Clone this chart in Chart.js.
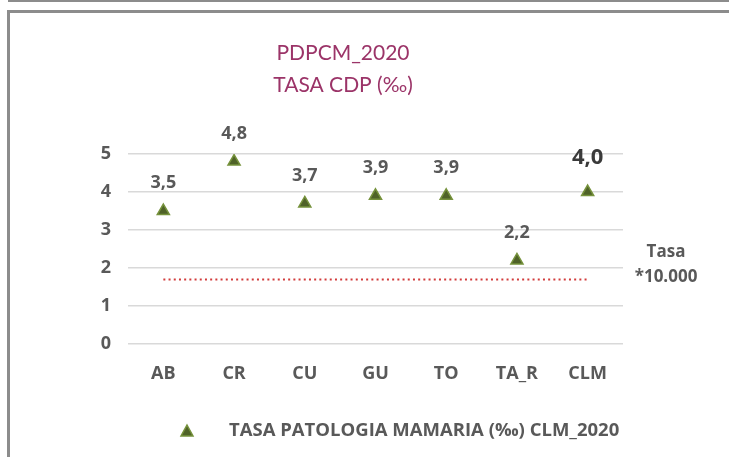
<!DOCTYPE html>
<html>
<head>
<meta charset="utf-8">
<script src="https://cdn.jsdelivr.net/npm/chart.js@4.4.1/dist/chart.umd.min.js"></script>
<style>
  html, body { margin: 0; padding: 0; background: #fff; }
  #wrap { position: relative; width: 729px; height: 457px; }
  canvas { display: block; }
</style>
</head>
<body>
<div id="wrap"><canvas id="c" width="729" height="457"></canvas></div>
<script>
const categories = ['AB', 'CR', 'CU', 'GU', 'TO', 'TA_R', 'CLM'];
const tasaValues = [3.5, 4.8, 3.7, 3.9, 3.9, 2.2, 4.0];
const referenceValues = [1.7, 1.7, 1.7, 1.7, 1.7, 1.7, 1.7];
const seriesName = 'TASA PATOLOGIA MAMARIA (‰) CLM_2020';
const titleLines = ['PDPCM_2020', 'TASA CDP (‰)'];
const sideNote = ['Tasa', '*10.000'];
const yTicks = [0, 1, 2, 3, 4, 5];

const FONT = '"Open Sans", Lato, sans-serif';
const TFONT = 'Lato, "Open Sans", sans-serif';
const GRAY = '#595959';

const decorPlugin = {
  id: 'decor',
  beforeDraw(chart) {
    const ctx = chart.ctx;
    ctx.save();
    ctx.fillStyle = '#fff';
    ctx.fillRect(0, 0, chart.width, chart.height);
    ctx.strokeStyle = '#8c8c8c';
    ctx.lineWidth = 2;
    ctx.beginPath();
    ctx.moveTo(8, 1); ctx.lineTo(729, 1);
    ctx.stroke();
    ctx.lineWidth = 3;
    ctx.beginPath();
    ctx.moveTo(8.5, 457); ctx.lineTo(8.5, 11.5); ctx.lineTo(729, 11.5);
    ctx.stroke();
    ctx.restore();
  },
  afterDraw(chart) {
    const ctx = chart.ctx;
    ctx.save();
    // title
    ctx.fillStyle = '#9B3468';
    ctx.font = '21px ' + TFONT;
    ctx.textAlign = 'center';
    ctx.textBaseline = 'middle';
    ctx.fillText(titleLines[0], 343, 53);
    ctx.fillText(titleLines[1], 343, 85);
    // data labels
    const meta = chart.getDatasetMeta(0);
    meta.data.forEach((pt, i) => {
      const last = i === tasaValues.length - 1;
      ctx.font = 'bold ' + (last ? 22 : 18) + 'px ' + FONT;
      ctx.fillStyle = last ? '#3a3a3a' : GRAY;
      const txt = tasaValues[i].toFixed(1).replace('.', ',');
      ctx.fillText(txt, pt.x, pt.y - (last ? 34 : 28));
    });
    // side note
    ctx.font = 'bold 17px ' + FONT;
    ctx.fillStyle = GRAY;
    ctx.fillText(sideNote[0], 666, 252);
    ctx.fillText(sideNote[1], 666, 277);
    // legend
    ctx.fillStyle = '#4F6228';
    ctx.strokeStyle = '#76923C';
    ctx.lineWidth = 1.5;
    ctx.beginPath();
    ctx.moveTo(187, 425); ctx.lineTo(193, 436); ctx.lineTo(181, 436); ctx.closePath();
    ctx.fill(); ctx.stroke();
    ctx.fillStyle = GRAY;
    ctx.textAlign = 'left';
    ctx.font = 'bold 18.5px ' + FONT;
    ctx.fillText(seriesName, 229, 431);
    ctx.restore();
  }
};

new Chart(document.getElementById('c'), {
  type: 'line',
  data: {
    labels: categories,
    datasets: [
      {
        label: seriesName,
        data: tasaValues,
        showLine: false,
        pointStyle: 'triangle',
        pointRadius: 7,
        pointHoverRadius: 7,
        backgroundColor: '#4F6228',
        borderColor: '#76923C',
        pointBorderWidth: 1.5,
        order: 0
      },
      {
        label: 'ref',
        data: referenceValues,
        borderColor: '#D23C3C',
        borderWidth: 2,
        borderDash: [2, 3.2],
        pointRadius: 0,
        pointHoverRadius: 0,
        fill: false,
        order: 1
      }
    ]
  },
  options: {
    responsive: false,
    animation: false,
    events: [],
    layout: { padding: { left: 0, right: 106, top: 154, bottom: 0 } },
    plugins: { legend: { display: false }, title: { display: false }, tooltip: { enabled: false } },
    scales: {
      x: {
        offset: true,
        grid: { display: false },
        border: { display: false },
        ticks: { color: GRAY, font: { family: FONT, size: 18, weight: 'bold' }, padding: 11 },
        afterFit(s) { s.height = 113; }
      },
      y: {
        min: 0, max: 5,
        afterBuildTicks(s) { s.ticks = yTicks.map(v => ({ value: v })); },
        grid: { color: '#d9d9d9', lineWidth: 1.5, drawTicks: false },
        border: { display: false },
        ticks: { color: GRAY, font: { family: FONT, size: 18, weight: 'bold' }, padding: 17 },
        afterFit(s) { s.width = 128; }
      }
    }
  },
  plugins: [decorPlugin]
});
</script>
</body>
</html>
